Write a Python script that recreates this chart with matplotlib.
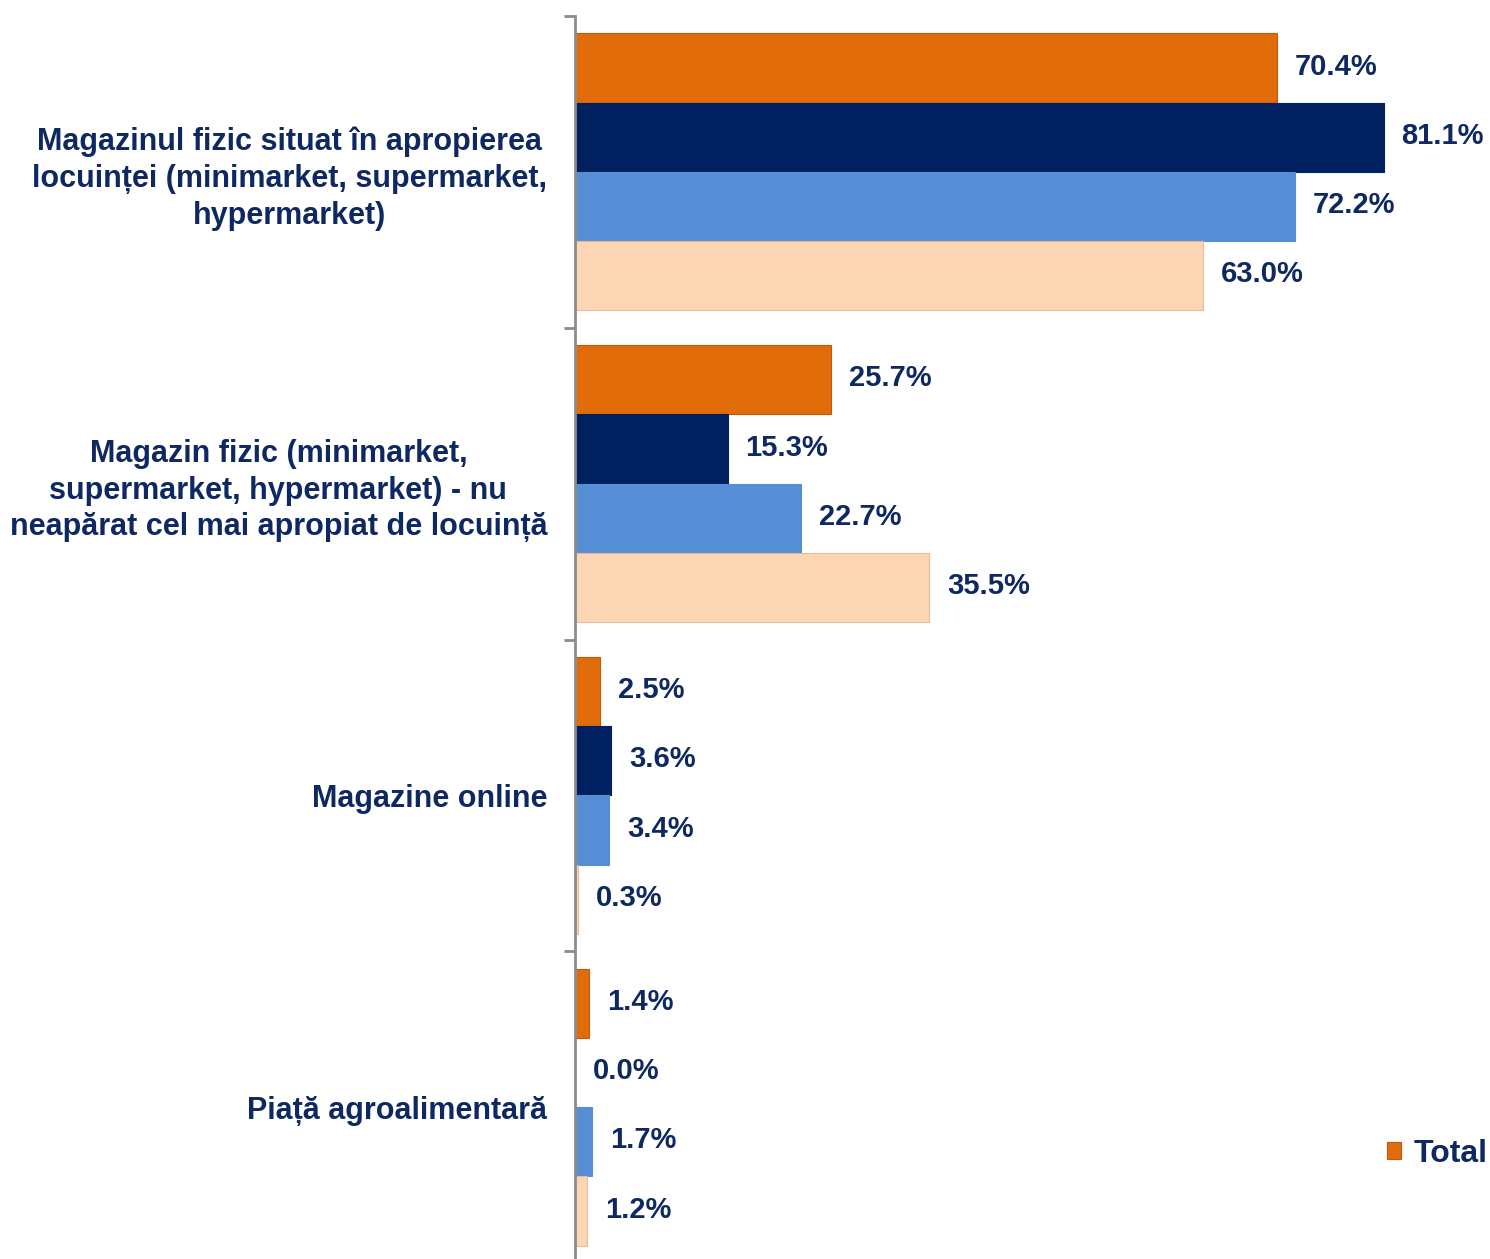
import matplotlib.pyplot as plt
import numpy as np

plt.rcParams['font.family'] = ['Liberation Sans', 'DejaVu Sans']

# categories (top to bottom) and the four series
categories = [
    'Magazinul fizic situat în apropierea\nlocuinței (minimarket, supermarket,\nhypermarket)',
    'Magazin fizic (minimarket,\nsupermarket, hypermarket) - nu\nneapărat cel mai apropiat de locuință',
    'Magazine online',
    'Piață agroalimentară',
]
total = [70.4, 25.7, 2.5, 1.4]
series_2 = [81.1, 15.3, 3.6, 0.0]
series_3 = [72.2, 22.7, 3.4, 1.7]
series_4 = [63.0, 35.5, 0.3, 1.2]

series = [total, series_2, series_3, series_4]
names = ['Total', '_s2', '_s3', '_s4']
colors = ['#E36C0A', '#002060', '#558ED5', '#FCD5B5']
edges = ['#C0590A', '#002060', '#558ED5', '#E8B995']
txt = '#0E2862'

W, H = 1490, 1259
fig = plt.figure(figsize=(W / 100, H / 100), dpi=100)
ax = fig.add_axes([575 / W, 1 - 1263 / H, (W - 575) / W, 1247 / H])

y = np.arange(len(categories))
h = 0.222
for k, (vals, name) in enumerate(zip(series, names)):
    pos = y + (k - 1.5) * h
    ax.barh(pos, vals, height=h, color=colors[k], edgecolor=edges[k],
            linewidth=0.8, label=name)
    for p, v in zip(pos, vals):
        ax.annotate(f'{v:.1f}%', (v, p), xytext=(13, 1), textcoords='offset points',
                    ha='left', va='center', fontsize=21, fontweight='bold', color=txt)

ax.set_xlim(0, (W - 575) / 9.97)
ax.set_ylim(3.5, -0.5)

for s in ['top', 'right', 'bottom']:
    ax.spines[s].set_visible(False)
ax.spines['left'].set_color('#8C8C8C')
ax.spines['left'].set_linewidth(2)
ax.set_xticks([])

ax.set_yticks(y)
ax.set_yticklabels(categories, fontsize=22, fontweight='bold', color=txt,
                   multialignment='center', linespacing=1.3)
ax.tick_params(axis='y', which='major', length=0, pad=20)
ax.set_yticks(np.arange(-0.5, 4.0, 1.0), minor=True)
ax.tick_params(axis='y', which='minor', length=8, width=2, color='#8C8C8C')

handles, labels = ax.get_legend_handles_labels()
leg = fig.legend(handles[:1], labels[:1], loc='center right',
                 bbox_to_anchor=(1488 / W, 1 - 1154 / H), frameon=False,
                 fontsize=23, handlelength=0.45, handleheight=0.45,
                 handletextpad=0.4, borderpad=0, borderaxespad=0, labelcolor=txt)
for t in leg.get_texts():
    t.set_fontweight('bold')

fig.savefig('out.png', dpi=100)
